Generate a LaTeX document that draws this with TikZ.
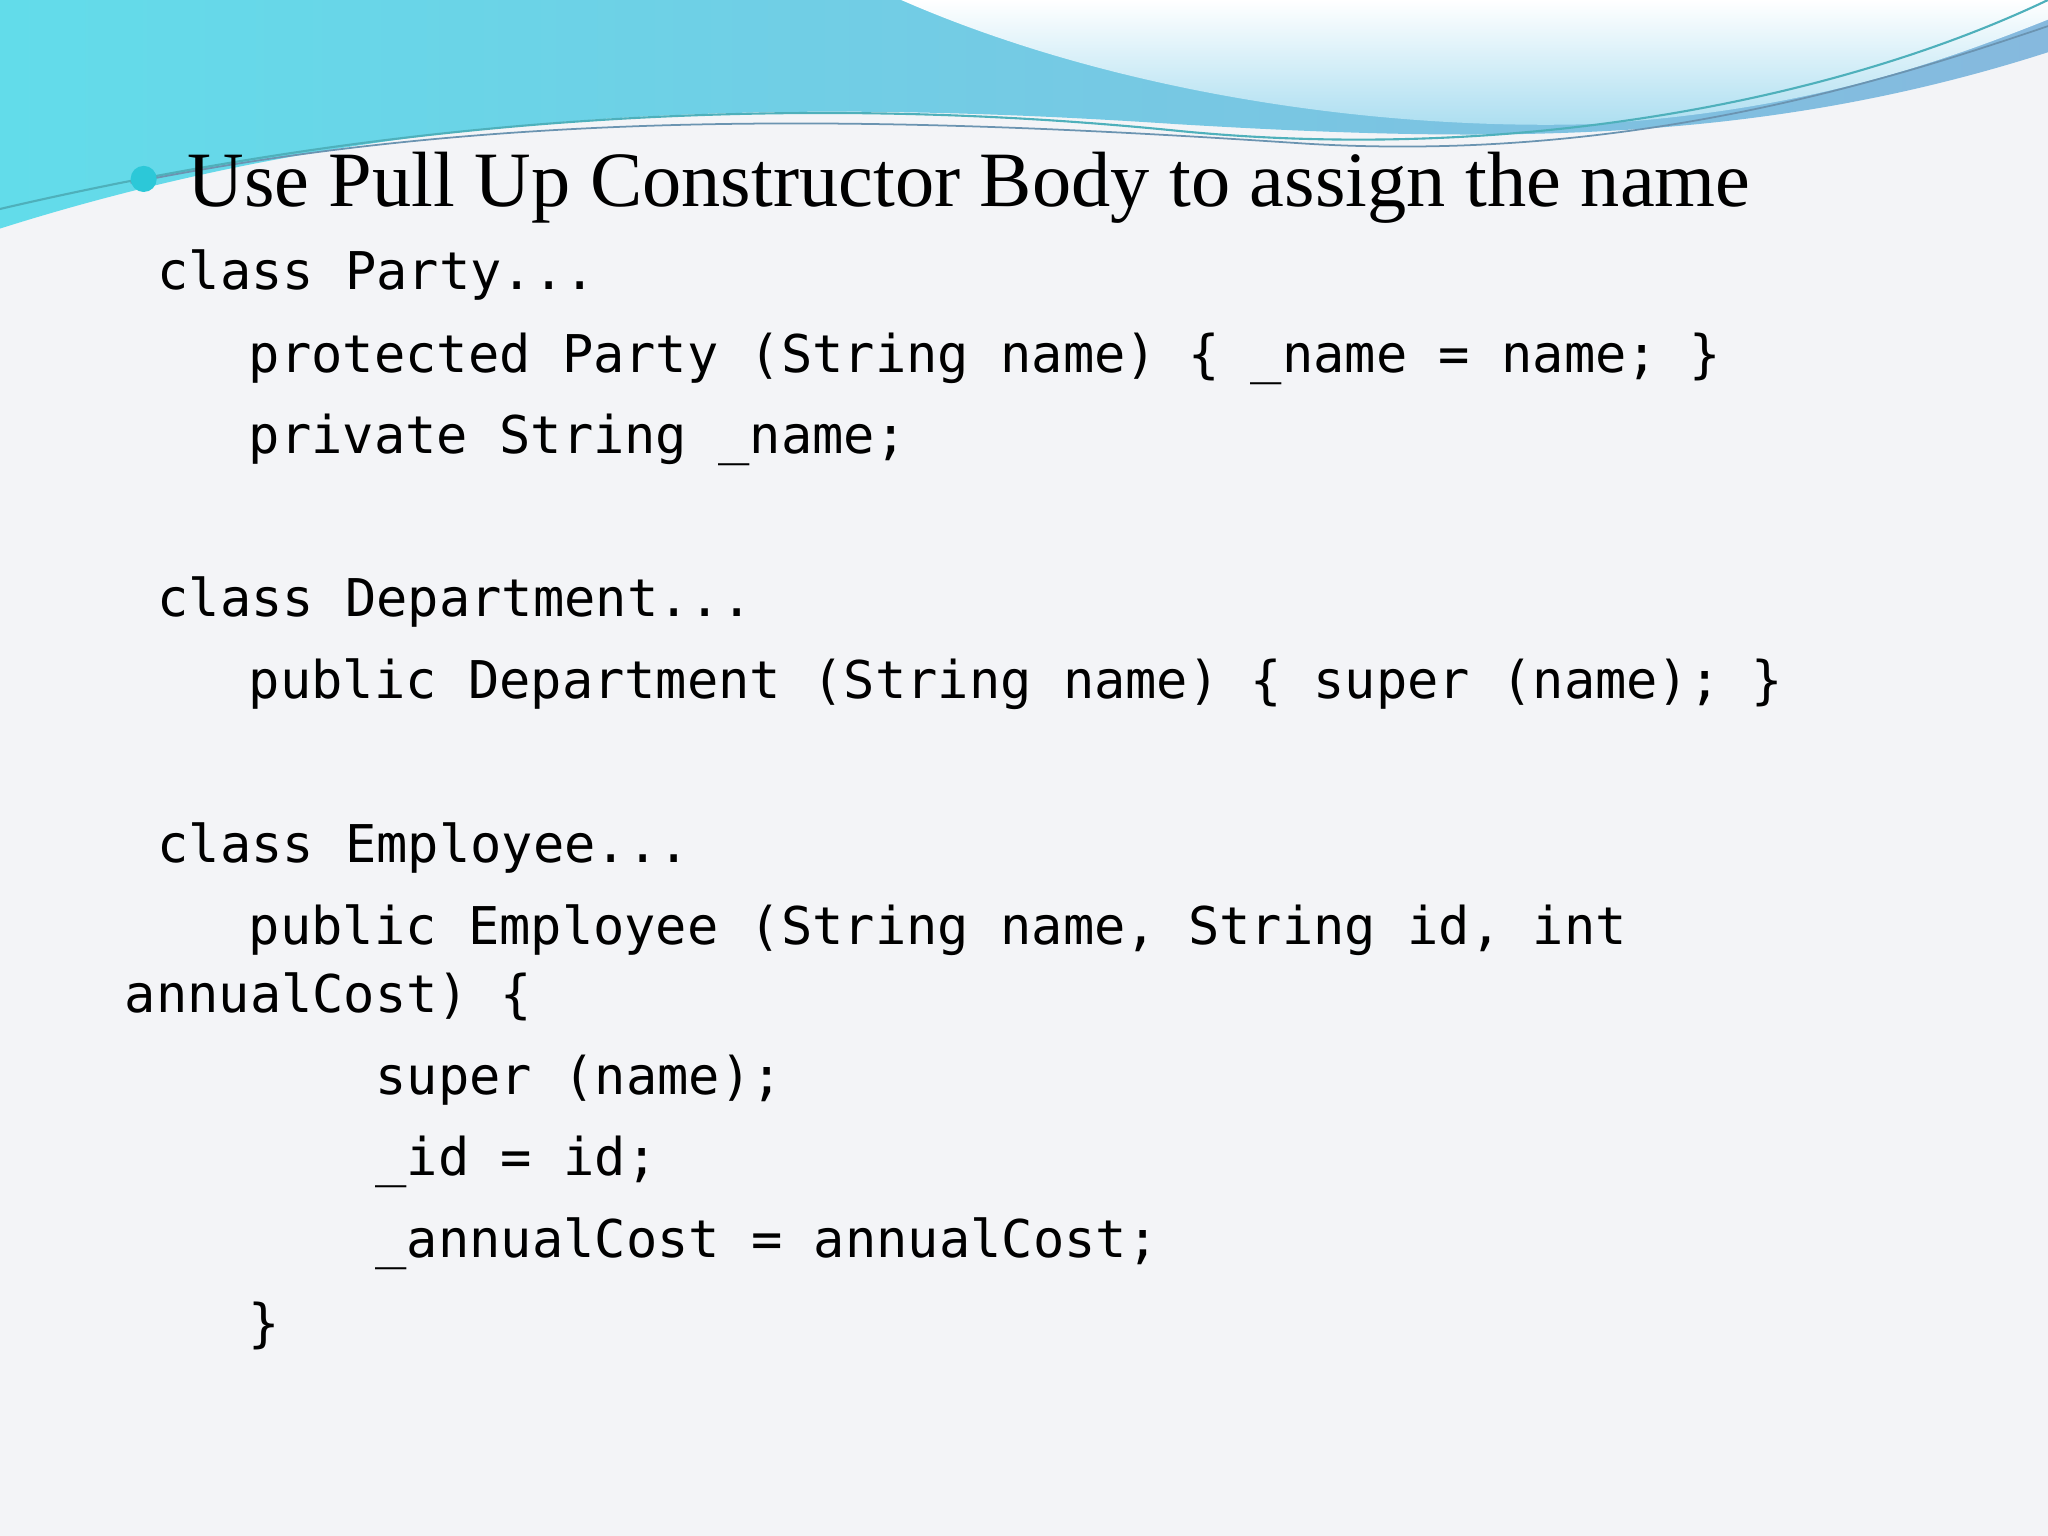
\documentclass[tikz,border=0pt]{standalone}
\usepackage{fontspec}
\setmainfont{Liberation Serif}
\setmonofont{DejaVu Sans Mono}
\definecolor{bg}{HTML}{F3F4F7}
\definecolor{tealA}{HTML}{62DCEA}
\definecolor{blueA}{HTML}{86B9DE}
\definecolor{paleA}{HTML}{A9DDF0}
\definecolor{bul}{HTML}{2CC8D8}
\begin{document}
\begin{tikzpicture}[x=0.013061cm,y=-0.013061cm,
  code/.style={anchor=base west,inner sep=0,font=\ttfamily\fontsize{14.8pt}{16pt}\selectfont},
  title/.style={anchor=base west,inner sep=0,font=\fontsize{22.3pt}{26pt}\selectfont}]
\useasboundingbox (0,0) rectangle (1568,1176);
\fill[bg] (0,0) rectangle (1568,1176);
% top wave
\shade[left color=tealA,right color=blueA] (0,0) -- (1568,0) -- (1568,40)
  .. controls (1350,110) and (1150,110) .. (900,95)
  .. controls (600,75) and (300,80) .. (0,175) -- cycle;
\shade[top color=white,bottom color=paleA] (690,0) .. controls (850,70) and (1050,100) .. (1220,95)
  .. controls (1380,85) and (1480,50) .. (1568,15) -- (1568,0) -- cycle;
\draw[tealA!80!black,line width=0.6pt] (0,160) .. controls (300,90) and (600,70) .. (900,100) .. controls (1150,125) and (1400,80) .. (1568,0);
\draw[blueA!80!black,line width=0.5pt] (100,140) .. controls (400,80) and (700,90) .. (1000,110) .. controls (1250,125) and (1450,60) .. (1568,20);
\fill[bul] (110,137) circle (10);
\node[title] (t) at (143,158) {Use Pull Up Constructor Body to assign the name};
\node[code] (l1) at (120,222) {class Party...};
\node[code] (l2) at (190,285) {protected Party (String name) \{ \_name = name; \}};
\node[code] (l3) at (190,347) {private String \_name;};
\node[code] (l4) at (120,472) {class Department...};
\node[code] (l5) at (190,535) {public Department (String name) \{ super (name); \}};
\node[code] (l6) at (120,660) {class Employee...};
\node[code] (l7) at (190,723) {public Employee (String name, String id, int};
\node[code] (l8) at (95,775) {annualCost) \{};
\node[code] (l9) at (287,838) {super (name);};
\node[code] (l10) at (287,900) {\_id = id;};
\node[code] (l11) at (287,963) {\_annualCost = annualCost;};
\node[code] (l12) at (190,1027) {\}};
\end{tikzpicture}
\end{document}
